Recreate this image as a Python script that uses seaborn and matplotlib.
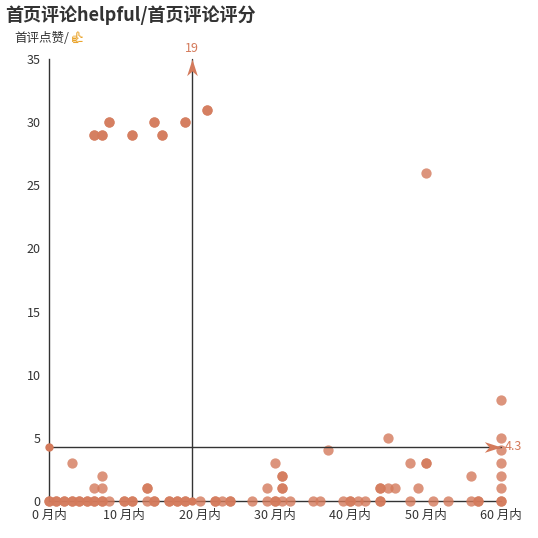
import pandas as pd
import matplotlib.pyplot as plt
from matplotlib import font_manager
from matplotlib.path import Path
from fontTools.ttLib import TTFont
import seaborn as sns

sns.set_style("white")
plt.rcParams['font.family'] = ['Noto Sans CJK SC', 'DejaVu Sans']

# data (repeated points = overlapping dots, they show darker)
months = [0, 0, 1, 1, 2, 2, 3, 3, 4, 4, 5, 5, 6, 6, 7, 7, 10, 10, 11, 11,
          14, 14, 16, 16, 17, 17, 18, 18, 22, 22, 24, 24, 30, 30, 40, 40,
          44, 44, 57, 57, 60, 60,
          8, 13, 20, 23, 27, 29, 31, 32, 35, 36, 39, 41, 42, 48, 51, 53, 56,
          13, 13, 31, 31, 44, 44, 6, 7, 29, 45, 46, 49, 60,
          31, 31, 7, 56, 60,
          50, 50, 3, 30, 48, 60,
          37, 60,
          45, 60,
          60,
          50,
          6, 6, 7, 7, 11, 11, 15, 15,
          8, 8, 14, 14, 18, 18,
          21, 21]
helpful = [0] * 42 + [0] * 17 + [1] * 13 + [2] * 5 + [3] * 6 + [4] * 2 + [5] * 2 + \
          [8] + [26] + [29] * 8 + [30] * 6 + [31] * 2

avg_month = 19
avg_helpful = 4.3
x_ticks = [0, 10, 20, 30, 40, 50, 60]
y_ticks = [0, 5, 10, 15, 20, 25, 30, 35]

df = pd.DataFrame({'month': months, 'helpful': helpful})

dot = '#d47a5b'
ink = '#333333'


def font_with(char):
    # look for any installed font that has this glyph
    for f in font_manager.fontManager.ttflist:
        try:
            cmap = TTFont(f.fname, fontNumber=0, lazy=True).getBestCmap()
        except Exception:
            continue
        if cmap and ord(char) in cmap:
            return f.name
    return None


thumb_fonts = ['DejaVu Sans']
thumb_font = font_with('👍')
if thumb_font:
    thumb_fonts.insert(0, thumb_font)

fig = plt.figure(figsize=(5.38, 5.38), dpi=100)
ax = fig.add_axes([0.091, 0.0688, 0.84, 0.8215])

sns.scatterplot(data=df, x='month', y='helpful', color=dot, alpha=0.8, s=55,
                linewidth=0, ax=ax, clip_on=False, zorder=3)

ax.set_xlim(0, 60)
ax.set_ylim(0, 35)
ax.set_xticks(x_ticks)
ax.set_xticklabels([f'{t} 月内' for t in x_ticks])
ax.set_yticks(y_ticks)
ax.tick_params(axis='both', labelsize=9, colors=ink, length=4, width=0.8, pad=2)
ax.set_xlabel('')
ax.set_ylabel('')
for side in ['top', 'right']:
    ax.spines[side].set_visible(False)
for side in ['left', 'bottom']:
    ax.spines[side].set_color(ink)
    ax.spines[side].set_linewidth(1)

# average mark lines with circle start and arrow end
arrow_up = Path([(0, 0), (-0.32, -1), (0, -0.72), (0.32, -1), (0, 0)],
                [Path.MOVETO, Path.LINETO, Path.LINETO, Path.LINETO, Path.CLOSEPOLY])
arrow_right = Path([(0, 0), (-1, 0.32), (-0.72, 0), (-1, -0.32), (0, 0)],
                   [Path.MOVETO, Path.LINETO, Path.LINETO, Path.LINETO, Path.CLOSEPOLY])

ax.plot([avg_month, avg_month], [0, 35], color=ink, lw=1, zorder=4, clip_on=False)
ax.plot([0, 60], [avg_helpful, avg_helpful], color=ink, lw=1, zorder=4, clip_on=False)
ax.plot(avg_month, 0, 'o', color=dot, ms=6, mew=0, zorder=5, clip_on=False)
ax.plot(0, avg_helpful, 'o', color=dot, ms=6, mew=0, zorder=5, clip_on=False)
ax.plot(avg_month, 35, marker=arrow_up, color=dot, ms=24, mew=0, zorder=5, clip_on=False)
ax.plot(60, avg_helpful, marker=arrow_right, color=dot, ms=24, mew=0, zorder=5, clip_on=False)
ax.annotate(f'{avg_month}', (avg_month, 35), xytext=(0, 3), textcoords='offset points',
            ha='center', va='bottom', fontsize=9, color=dot)
ax.annotate(f'{avg_helpful}', (60, avg_helpful), xytext=(3, 0), textcoords='offset points',
            ha='left', va='center', fontsize=9, color=dot)

fig.text(0.01, 0.99, '首页评论helpful/首页评论评分', fontsize=13, fontweight='bold',
         color=ink, ha='left', va='top')
fig.text(0.026, 0.929, '首评点赞/', fontsize=9, color=ink, ha='left', va='center')
fig.text(0.128, 0.929, '👍', fontsize=12, color='#eaa52e', ha='left', va='center',
         family=thumb_fonts)

fig.savefig('out.png', dpi=100)
